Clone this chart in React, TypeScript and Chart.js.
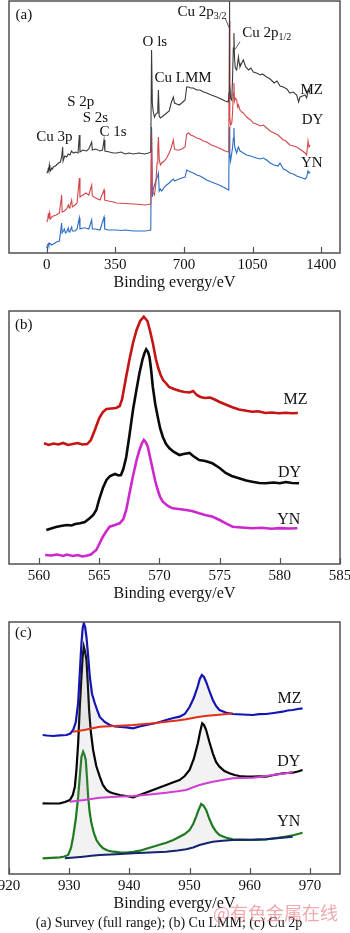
import React, { useEffect, useRef } from "react";
import { Chart, registerables } from "chart.js";

Chart.register(...registerables);

type Pt = [number, number];

// ---------- (a) Survey (full range) ----------
const surveyTicks = [0, 350, 700, 1050, 1400];
const surveyMZ: Pt[] = [[0,80],[5,81],[8,84],[11,82],[13.6,88],[17,83],[20,82],[25.5,85],[30,84],[34,86],[45,87],[60,90],[70,91],[76.5,96],[81.6,106],[84,92],[92,97],[102,96],[110,99],[119,98],[127,102],[136,100],[148,101],[160,100],[166.7,118],[170,101],[185,103],[204,102],[215,104],[229.6,111],[233,103],[250,104],[272,102],[285,103],[292.5,113],[297,102],[320,101],[340,100],[357,100],[380,101],[400,99],[420,100],[442,99],[470,100],[500,99],[520,100],[531,101],[535,203],[539,150],[543,142],[550,136],[557,139],[563,140],[567,145],[570,163],[574,137],[580,135],[587,136],[600,138],[612,140],[625,142],[635,150],[646,156],[652,150],[663,149],[676,148],[689,150],[700,152],[706,153],[714,166],[723,166],[735,165],[748,165],[765,163],[782,163],[800,161],[816,160],[840,158],[867,156],[890,154],[910,152],[926,151],[930,160],[932,252],[934,170],[938,155],[944,153],[948,175],[952,205],[955,220],[958,195],[962,185],[969,183],[974,190],[978,196],[982,190],[986,186],[995,190],[1003,193],[1015,186],[1030,183],[1042,185],[1054,181],[1070,180],[1090,178],[1100,179],[1122,176],[1140,174],[1160,170],[1175,172],[1190,167],[1207,166],[1225,164],[1240,160],[1258,161],[1275,158],[1285,151],[1292,156],[1305,157],[1318,158],[1326,155],[1335,163],[1340,161],[1344,165]];
const surveyDY: Pt[] = [[0,31],[5,33],[8,38],[11,36],[13.6,40],[17,35],[20,34],[25.5,36],[34,37],[50,38],[65,40],[76.5,58],[79,41],[90,42],[102,44],[110.5,48],[115,45],[119,47],[127.6,53],[131,46],[144.6,48],[155,50],[166.7,75],[170,56],[185,58],[200,60],[215,58],[229.6,68],[233,57],[250,55],[272,53],[292.5,63],[296,53],[315,52],[340,51],[357,50],[400,49.5],[442,49],[480,48.5],[500,48],[520,48.5],[531,49],[535,120],[539,62],[544,60],[550,58],[557,70],[563,90],[567,105],[570,116],[574,94],[580,88],[587,90],[600,92],[612,95],[625,100],[635,105],[646,113],[652,104],[663,103],[676,103],[689,104],[706,106],[714,119],[723,120],[735,118],[748,117],[765,115],[782,114],[800,112],[816,111],[840,108],[867,106],[890,104],[910,102],[926.7,101],[929,115],[932,232],[934,135],[938,128],[944,130],[948,140],[952,160],[955,170],[958,152],[962,155],[969,153],[974,146],[978,148],[986,143],[995,141],[1003,140],[1020,136],[1040,133],[1054,130],[1070,129],[1090,127],[1105,128],[1122,125],[1140,122],[1160,120],[1180,118],[1207,113],[1220,112],[1240,108],[1258,107],[1275,106],[1290,104],[1305,102],[1318,100],[1326,98],[1333,112],[1338,106],[1344,108]];
const surveyYN: Pt[] = [[0,5],[4,8],[8,9],[11,7],[13.6,10],[20,9],[25.5,8],[34,9],[50,11],[65,12],[76.5,30],[79,20],[85,22],[90,24],[96,20],[102,21],[110.5,25],[114,21],[119,22],[127.6,26],[131,22],[144.6,22],[155,24],[166.7,35],[170,24],[185,25],[200,25],[215,24],[229.6,33],[233,24],[250,24],[272,23],[292.5,36],[296,24],[315,23],[340,23],[357,23],[380,22.5],[400,23],[442,22],[470,22],[500,22],[520,22.5],[531,23],[535,126],[539,56],[544,64],[550,68],[557,72],[563,76],[567,78],[570,80],[574,62],[580,64],[587,62],[600,66],[612,68],[625,70],[635,72],[646,74],[652,72],[663,73],[676,74],[689,75],[706,76],[714,83],[723,82],[735,81],[748,80],[765,78],[782,77],[800,75],[816,73],[840,71],[867,69],[890,67],[910,65],[926.7,63],[929,75],[932,126],[934,100],[938,92],[944,100],[948,105],[952,115],[955,125],[958,108],[962,104],[969,100],[974,104],[978,106],[986,102],[995,101],[1003,100],[1020,98],[1040,97],[1054,96],[1070,95],[1090,94],[1105,95],[1122,93],[1140,90],[1160,88],[1180,87],[1190,90],[1207,84],[1220,83],[1240,80],[1258,79],[1275,77],[1290,76],[1305,75],[1318,74],[1326,76],[1333,82],[1338,80],[1344,81]];

// ---------- (b) Cu LMM ----------
const lmmTicks = [560, 565, 570, 575, 580, 585];
const lmmMZ: Pt[] = [[560.4,120.7],[560.8,119],[561.2,120.5],[561.6,119.5],[562,121],[562.4,119],[562.8,120],[563.2,121],[563.6,119.5],[564,120],[564.3,124],[564.6,133],[565,146],[565.3,152],[565.6,155],[566,155.5],[566.4,156],[566.7,158],[566.9,165],[567.2,185],[567.5,204],[567.8,221],[568.1,234],[568.4,243],[568.7,247.3],[569,243],[569.2,234],[569.45,221],[569.7,205],[569.9,196],[570.1,189],[570.3,184],[570.6,180],[570.8,177],[571.2,175],[571.7,173],[572.1,172],[572.5,171.5],[572.8,173],[573.1,169],[573.4,167],[573.8,166],[574.2,166.5],[574.5,165],[575,162],[575.5,159.5],[576,157],[576.6,154.5],[577.1,153.5],[577.7,152.3],[578.2,152.8],[578.8,151],[579.3,151.5],[579.9,150.7],[580.5,151.2],[581,150.8],[581.5,151]];
const lmmDY: Pt[] = [[560.6,34],[561,35.5],[561.4,37],[561.8,38],[562.3,39],[562.7,38.5],[563,40],[563.4,40.7],[563.8,42],[564.2,45.7],[564.5,49],[564.75,54],[565,65],[565.3,76],[565.6,84],[565.9,88],[566.3,90],[566.6,88.5],[566.8,89],[567,95],[567.24,107],[567.5,128],[567.8,154],[568.1,175],[568.34,191],[568.6,205],[568.76,211],[568.9,214.7],[569.05,212],[569.17,207],[569.3,195],[569.45,177],[569.65,160],[569.86,147],[570.05,136],[570.28,127],[570.55,120],[570.83,115.7],[571.2,112],[571.66,109],[572,110],[572.5,111],[572.8,108],[573.3,104],[573.8,103],[574.4,100.7],[575,96],[575.5,91],[576,88],[576.6,85.7],[577.2,83.5],[577.7,82.3],[578.3,81],[578.8,80.7],[579.5,81.5],[580,80.8],[580.5,82],[581,81],[581.6,80.7]];
const lmmYN: Pt[] = [[560.5,9],[561,8.5],[561.5,9.5],[562,8],[562.3,9.5],[562.8,8],[563.2,9],[563.6,7.5],[564,8.5],[564.3,9.5],[564.75,14],[565,20],[565.3,27.3],[565.6,33],[565.86,37.3],[566.3,39],[566.69,40.7],[567,45],[567.24,54],[567.5,70],[567.79,87.3],[568.1,104],[568.34,114],[568.55,121],[568.7,124],[568.85,122],[569.03,117.3],[569.25,105],[569.45,94],[569.65,83],[569.86,74],[570.05,67],[570.28,62.3],[570.7,58],[571.1,55.7],[571.6,55],[572.2,54],[572.7,53],[573.3,50.7],[573.8,49],[574.42,47.3],[575,44],[575.52,40.7],[576.08,37.3],[576.8,36.5],[577.73,35.7],[578.5,36.2],[579.3,35.3],[580,35.9],[580.8,35.5],[581.46,35.7]];

// ---------- (c) Cu 2p ----------
const cu2pTicks = [920, 930, 940, 950, 960, 970];
const cu2pMZ: Pt[] = [[925.6,139],[926.3,138.5],[927.35,138],[928.4,138.6],[929.56,139],[930.2,140.5],[930.66,144],[931.1,152],[931.49,171],[931.8,205],[932.04,231],[932.25,246],[932.43,250.7],[932.65,247],[932.87,237],[933.15,218],[933.43,197],[933.8,180],[934.25,171],[934.7,163],[935.08,157],[935.9,152],[936.74,149],[937.6,147.5],[938.5,147],[939.5,146.7],[940.61,145.7],[941.7,147.5],[942.82,149],[944.5,151],[946.13,154],[947.3,156],[948.34,157.3],[949.2,160],[950,167],[950.7,176],[951.38,188],[951.7,195],[952.04,199],[952.4,197],[952.76,192],[953.3,183],[953.87,174],[954.4,168],[954.97,164],[956,161.5],[957.18,160],[958.8,159.5],[960.5,159],[961.6,159.8],[962.71,160],[964,161],[965.47,162.3],[966.3,163.5],[967.13,164],[968,165],[968.78,165.7]];
const cu2pMZBase: Pt[] = [[930.66,142.3],[932.5,144],[935.08,147.3],[937.5,148],[940.61,149],[943.5,150.5],[946.13,152.3],[948,153.5],[949.45,154.7],[950.5,156],[951.66,157.3],[953,158.3],[954.42,159],[955.8,159.8],[957.18,160.7]];
const cu2pDY: Pt[] = [[925.58,70.7],[927,70.5],[928.45,70.7],[929.3,72],[930.11,74],[930.6,79],[930.94,87.3],[931.2,104],[931.49,130.7],[931.75,165],[932.04,197.3],[932.25,218],[932.43,227.3],[932.65,222],[932.87,214],[933.1,190],[933.31,164],[933.6,142],[933.98,124],[934.5,108],[935.08,97.3],[935.6,89],[936.19,84],[936.7,82],[937.29,80.7],[938.4,79],[939.5,78],[940.61,76.7],[941.71,79],[942.8,81.5],[943.92,84],[945,86.5],[946.13,89],[947.2,91.5],[948.34,94],[949.2,98],[950,104],[950.7,115],[951.38,130.7],[951.75,142],[952.1,150.7],[952.4,149],[952.76,144],[953.3,132],[953.87,120.7],[954.4,112],[954.97,107.3],[955.8,103],[956.63,100.7],[957.5,99],[958.29,98],[959.4,97.5],[960.5,97.3],[961.6,97.6],[962.71,97.3],[964,99],[965.47,100.7],[966.3,101],[967.13,101.3],[968,102.5],[968.78,104]];
const cu2pDYBase: Pt[] = [[930.11,72.3],[932.5,74],[935.08,76.3],[937.8,77.2],[940.61,78],[943.4,79.6],[946.13,81.3],[948,82.7],[949.45,84],[950.5,86.5],[951.66,89],[952.8,90.8],[953.87,92.3],[955.5,94],[957.18,95.7],[958.8,96],[960.5,96.3],[961.6,97],[962.71,98],[964.4,99.4],[966.02,100.7],[967.13,101.7]];
const cu2pYN: Pt[] = [[925.58,15.7],[927,16.2],[928.45,16.7],[929.2,17.5],[929.83,19],[930.3,26],[930.66,37.3],[931.1,55],[931.49,77.3],[931.8,100],[932.04,117.3],[932.32,122.3],[932.55,119],[932.76,114],[932.95,97],[933.15,77.3],[933.4,62],[933.7,50.7],[934.1,41],[934.53,34],[935.1,29],[935.64,25.7],[936.4,23.5],[937.29,22.3],[938.4,21.6],[939.5,21.3],[940.61,22.2],[941.71,23.3],[942.8,25.2],[943.92,27.3],[945,29.2],[946.13,31.3],[947.3,34],[948.34,37.3],[949.2,40],[950,44],[950.6,50],[951.1,57.3],[951.5,64],[951.93,70],[952.3,68.5],[952.76,64],[953.3,55],[953.87,47.3],[954.4,42.5],[954.97,39],[956,36.5],[957.18,34.7],[958.8,34.3],[960.5,34],[961.6,34.4],[962.71,34.7],[964.4,36],[966.02,37.3],[967.4,39],[968.78,41.3]];
const cu2pYNBase: Pt[] = [[929.28,15.7],[930.8,16.5],[932.32,17.3],[933.7,18.2],[935.08,19],[937.8,19.8],[940.61,20.7],[943.4,21.5],[946.13,22.3],[948,23.5],[949.45,24.7],[950.6,26.5],[951.66,29],[952.8,30.8],[953.87,32.3],[955.5,33.2],[957.18,34],[960,34.3],[962.71,34.7],[965,36],[967.13,37.3]];

const AXIS_TITLE = "Binding evergy/eV";
const CAPTION = "(a) Survey (full range); (b) Cu LMM; (c) Cu 2p";
const WATERMARK = "@有色金属在线";

type Part = { t: string; sub?: boolean };
type Label = { parts: Part[]; x: number; y: number; size?: number };
type Leader = [number, number, number, number];

const surveyLabels: Label[] = [
  { parts: [{ t: "(a)" }], x: -116, y: 238 },
  { parts: [{ t: "Cu 3p" }], x: 40, y: 116 },
  { parts: [{ t: "S 2p" }], x: 174, y: 151 },
  { parts: [{ t: "S 2s" }], x: 249, y: 135 },
  { parts: [{ t: "C 1s" }], x: 338, y: 121 },
  { parts: [{ t: "O ls" }], x: 552, y: 211 },
  { parts: [{ t: "Cu LMM" }], x: 696, y: 175 },
  { parts: [{ t: "Cu 2p" }, { t: "3/2", sub: true }], x: 792, y: 241 },
  { parts: [{ t: "Cu 2p" }, { t: "1/2", sub: true }], x: 1122, y: 220 },
  { parts: [{ t: "MZ" }], x: 1352, y: 163 },
  { parts: [{ t: "DY" }], x: 1356, y: 133 },
  { parts: [{ t: "YN" }], x: 1352, y: 90 },
];
const surveyLeaders: Leader[] = [
  [910, 235, 932, 224.7],
  [986, 211.3, 961, 203.7],
];
const lmmLabels: Label[] = [
  { parts: [{ t: "(b)" }], x: 558.73, y: 239 },
  { parts: [{ t: "MZ" }], x: 581.3, y: 164, size: 16 },
  { parts: [{ t: "DY" }], x: 580.8, y: 91, size: 16 },
  { parts: [{ t: "YN" }], x: 580.75, y: 44, size: 16 },
];
const cu2pLabels: Label[] = [
  { parts: [{ t: "(c)" }], x: 922.4, y: 240.7 },
  { parts: [{ t: "MZ" }], x: 966.6, y: 175.7, size: 16 },
  { parts: [{ t: "DY" }], x: 966.5, y: 112.3, size: 16 },
  { parts: [{ t: "YN" }], x: 966.5, y: 52.3, size: 16 },
];

const SERIF = '"Liberation Serif", "Times New Roman", serif';
const AXIS_H = 42;

interface PanelSpec {
  top: number;
  height: number;
  areaTop: number;
  areaBottom: number;
  xMin: number;
  xMax: number;
  yMax: number;
  ticks: number[];
  datasets: any[];
  labels: Label[];
  leaders: Leader[];
}

const toXY = (arr: Pt[]) => arr.map(([x, y]) => ({ x, y }));

function line(data: Pt[], color: string, width: number, extra: any = {}) {
  return {
    data: toXY(data),
    borderColor: color,
    borderWidth: width,
    pointRadius: 0,
    tension: 0,
    fill: false,
    ...extra,
  };
}

function buildConfig(spec: PanelSpec): any {
  const overlay = {
    id: "overlay",
    afterDatasetsDraw(chart: any) {
      const { ctx, chartArea: a, scales } = chart;
      const xs = scales.x;
      const ys = scales.y;
      ctx.save();
      ctx.strokeStyle = "#505050";
      ctx.lineWidth = 1.5;
      ctx.strokeRect(a.left, a.top, a.right - a.left, a.bottom - a.top);
      ctx.lineWidth = 1.2;
      spec.ticks.forEach((v) => {
        const px = Math.round(xs.getPixelForValue(v)) + 0.5;
        ctx.beginPath();
        ctx.moveTo(px, a.bottom);
        ctx.lineTo(px, a.bottom - 6);
        ctx.stroke();
      });
      ctx.strokeStyle = "#333";
      ctx.lineWidth = 0.8;
      spec.leaders.forEach(([x1, y1, x2, y2]) => {
        ctx.beginPath();
        ctx.moveTo(xs.getPixelForValue(x1), ys.getPixelForValue(y1));
        ctx.lineTo(xs.getPixelForValue(x2), ys.getPixelForValue(y2));
        ctx.stroke();
      });
      ctx.fillStyle = "#111";
      ctx.textBaseline = "middle";
      ctx.textAlign = "left";
      spec.labels.forEach((l) => {
        const main = `${l.size ?? 15}px ${SERIF}`;
        const sub = `10px ${SERIF}`;
        let w = 0;
        l.parts.forEach((p) => {
          ctx.font = p.sub ? sub : main;
          w += ctx.measureText(p.t).width;
        });
        let x = xs.getPixelForValue(l.x) - w / 2;
        const y = ys.getPixelForValue(l.y);
        l.parts.forEach((p) => {
          ctx.font = p.sub ? sub : main;
          ctx.fillText(p.t, x, p.sub ? y + 4 : y);
          x += ctx.measureText(p.t).width;
        });
      });
      ctx.restore();
    },
  };

  return {
    type: "line",
    data: { datasets: spec.datasets },
    options: {
      animation: false,
      responsive: false,
      devicePixelRatio: 1,
      layout: {
        padding: {
          left: 9,
          right: 10,
          top: spec.areaTop,
          bottom: spec.height - spec.areaBottom - AXIS_H,
        },
      },
      plugins: {
        legend: { display: false },
        tooltip: { enabled: false },
      },
      scales: {
        x: {
          type: "linear",
          min: spec.xMin,
          max: spec.xMax,
          afterBuildTicks: (s: any) => {
            s.ticks = spec.ticks.map((v) => ({ value: v }));
          },
          afterFit: (s: any) => {
            s.height = AXIS_H;
            s.paddingLeft = 0;
            s.paddingRight = 0;
          },
          grid: { display: false, drawTicks: false },
          border: { display: false },
          ticks: {
            padding: 3,
            color: "#111",
            autoSkip: false,
            maxRotation: 0,
            font: { family: SERIF, size: 15 },
            callback: (v: any) => String(v),
          },
          title: {
            display: true,
            text: AXIS_TITLE,
            color: "#111",
            font: { family: SERIF, size: 16 },
            padding: { top: 0, bottom: 3 },
          },
        },
        y: { type: "linear", display: false, min: 0, max: spec.yMax },
      },
    },
    plugins: [overlay],
  };
}

const panels: PanelSpec[] = [
  {
    top: 0,
    height: 300,
    areaTop: 1,
    areaBottom: 253,
    xMin: -192,
    xMax: 1496,
    yMax: 252,
    ticks: surveyTicks,
    datasets: [
      line(surveyMZ, "#3a3a3a", 1.1),
      line(surveyDY, "#d2484a", 1.1),
      line(surveyYN, "#2b6cc4", 1.1),
    ],
    labels: surveyLabels,
    leaders: surveyLeaders,
  },
  {
    top: 300,
    height: 310,
    areaTop: 11,
    areaBottom: 264,
    xMin: 557.5,
    xMax: 585,
    yMax: 253,
    ticks: lmmTicks,
    datasets: [
      line(lmmMZ, "#c41414", 2.6),
      line(lmmDY, "#0a0a0a", 2.6),
      line(lmmYN, "#cc28cc", 2.6),
    ],
    labels: lmmLabels,
    leaders: [],
  },
  {
    top: 610,
    height: 323,
    areaTop: 12,
    areaBottom: 264,
    xMin: 920,
    xMax: 975,
    yMax: 252,
    ticks: cu2pTicks,
    datasets: [
      line(cu2pMZBase, "#e0301c", 2),
      line(cu2pDYBase, "#d040d0", 2),
      line(cu2pYNBase, "#14246e", 2),
      line(cu2pMZ, "#1414b4", 2.2, { fill: { target: 0 }, backgroundColor: "rgba(150,150,150,0.12)" }),
      line(cu2pDY, "#050505", 2.2, { fill: { target: 1 }, backgroundColor: "rgba(150,150,150,0.12)" }),
      line(cu2pYN, "#1e7a1e", 2.2, { fill: { target: 2 }, backgroundColor: "rgba(150,150,150,0.12)" }),
    ],
    labels: cu2pLabels,
    leaders: [],
  },
];

function Panel({ spec }: { spec: PanelSpec }) {
  const ref = useRef<HTMLCanvasElement>(null);
  useEffect(() => {
    if (!ref.current) return;
    const chart = new Chart(ref.current, buildConfig(spec));
    return () => chart.destroy();
  }, [spec]);
  return (
    <canvas
      ref={ref}
      width={350}
      height={spec.height}
      style={{
        position: "absolute",
        left: 0,
        top: spec.top,
        width: 350,
        height: spec.height,
        display: "block",
      }}
    />
  );
}

export default function App() {
  return (
    <div
      style={{
        position: "absolute",
        left: 0,
        top: 0,
        width: 350,
        height: 933,
        background: "#fff",
        overflow: "hidden",
      }}
    >
      {panels.map((p, i) => (
        <Panel key={i} spec={p} />
      ))}
      <div
        style={{
          position: "absolute",
          left: 0,
          top: 914,
          width: 338,
          textAlign: "center",
          fontFamily: SERIF,
          fontSize: 14,
          lineHeight: "17px",
          color: "#111",
          whiteSpace: "nowrap",
        }}
      >
        {CAPTION}
      </div>
      <div
        style={{
          position: "absolute",
          left: 213,
          top: 901,
          fontFamily: '"Noto Sans CJK SC", sans-serif',
          fontSize: 18,
          lineHeight: "22px",
          color: "rgba(232,110,120,0.6)",
          whiteSpace: "nowrap",
        }}
      >
        {WATERMARK}
      </div>
    </div>
  );
}
